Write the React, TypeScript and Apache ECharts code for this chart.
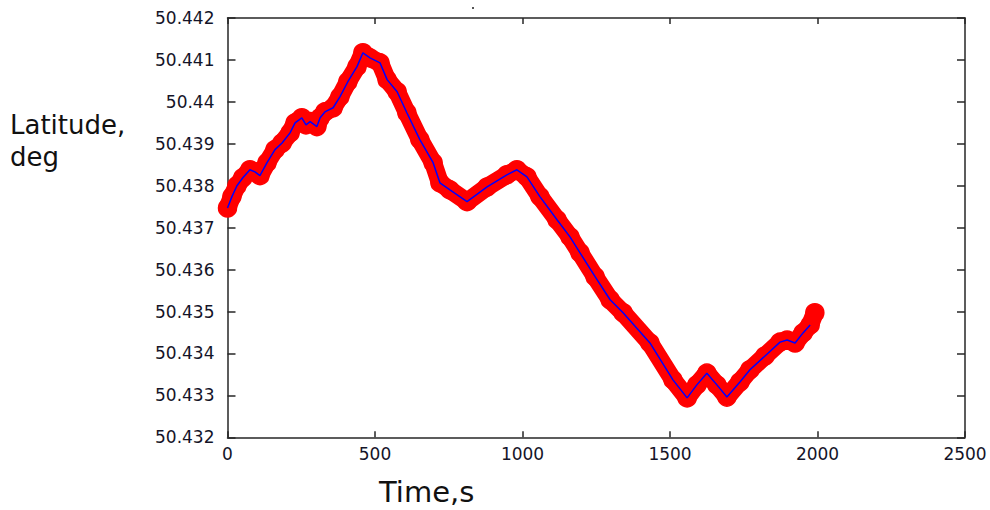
import React, { useEffect, useRef } from "react";
import * as echarts from "echarts";

// Time (s) and latitude (deg)
const timeS = [
  0, 15, 32, 52, 76, 93, 110, 134, 161, 185, 212, 229, 252, 266, 280, 303, 314, 330, 358, 381,
  408, 439, 459, 483, 517, 541, 575, 608, 652, 697, 720, 754, 812, 880, 947, 981, 1015, 1059, 1117, 1161,
  1195, 1246, 1297, 1341, 1432, 1510, 1558, 1591, 1625, 1659, 1693, 1737, 1771, 1822, 1873, 1897, 1924, 1951, 1975, 1991,
];
const latitude = [
  50.43747, 50.43774, 50.438, 50.43819, 50.43838, 50.43833, 50.43824, 50.43855, 50.43886, 50.43902,
  50.43926, 50.4395, 50.43962, 50.43945, 50.43953, 50.43941, 50.43962, 50.43976, 50.43986, 50.44012,
  50.44048, 50.44084, 50.44117, 50.44105, 50.44093, 50.44053, 50.44024, 50.43974, 50.4391, 50.43855,
  50.43807, 50.4379, 50.43762, 50.43797, 50.43826, 50.43838, 50.43821, 50.43774, 50.43719, 50.43678,
  50.4364, 50.43583, 50.43528, 50.43497, 50.43425, 50.43337, 50.43294, 50.43325, 50.43353, 50.43325,
  50.43296, 50.43332, 50.43361, 50.43394, 50.43427, 50.43432, 50.43425, 50.43449, 50.43468, 50.43497,
];
// the blue (filtered) track stops slightly before the red measurements
const blueCount = 59;

const xTicks = { min: 0, max: 2500, interval: 500 };
const yTicks = { min: 50.432, max: 50.442, interval: 0.001 };

const yLabelLines = ["Latitude,", "deg"];
const xLabel = "Time,s";

export default function App() {
  const ref = useRef<HTMLDivElement>(null);
  useEffect(() => {
    if (!ref.current) return;
    const chart = echarts.init(ref.current, null, { renderer: "svg" });
    const red = timeS.map((t, i) => [t, latitude[i]]);
    const blue = red.slice(0, blueCount);
    const axisLine = { show: true, onZero: false, lineStyle: { color: "#262626", width: 1.5 } };
    const labelStyle = { fontSize: 17, fontFamily: "DejaVu Sans", color: "#141428" };
    chart.setOption({
      animation: false,
      backgroundColor: "#ffffff",
      grid: { left: 227.5, right: 25, top: 18, bottom: 72.7, containLabel: false },
      xAxis: [
        {
          type: "value", position: "bottom", ...xTicks,
          axisLine, axisTick: { show: true, inside: true, length: 6, lineStyle: { color: "#262626", width: 1.5 } },
          axisLabel: { ...labelStyle, margin: 8, formatter: (v: number) => String(v) },
          splitLine: { show: false },
        },
        {
          type: "value", position: "top", ...xTicks,
          axisLine, axisTick: { show: true, inside: true, length: 6, lineStyle: { color: "#262626", width: 1.5 } },
          axisLabel: { show: false },
          splitLine: { show: false },
        },
      ],
      yAxis: [
        {
          type: "value", position: "left", ...yTicks,
          axisLine, axisTick: { show: true, inside: true, length: 8, lineStyle: { color: "#262626", width: 1.5 } },
          axisLabel: {
            ...labelStyle, margin: 13,
            formatter: (v: number) => String(Number(v.toFixed(3))),
          },
          splitLine: { show: false },
        },
        {
          type: "value", position: "right", ...yTicks,
          axisLine, axisTick: { show: true, inside: true, length: 8, lineStyle: { color: "#262626", width: 1.5 } },
          axisLabel: { show: false },
          splitLine: { show: false },
        },
      ],
      graphic: [
        { type: "text", left: 10, top: 111, style: { text: yLabelLines[0], font: "26px 'DejaVu Sans'", lineHeight: 28, fill: "#111" } },
        { type: "text", left: 10, top: 143, style: { text: yLabelLines[1], font: "26px 'DejaVu Sans'", lineHeight: 28, fill: "#111" } },
        { type: "text", left: 379, top: 476, style: { text: xLabel, font: "29px 'DejaVu Sans'", lineHeight: 31, fill: "#111" } },
        { type: "rect", shape: { x: 472, y: 7, width: 2, height: 2 }, style: { fill: "#555" } },
      ],
      series: [
        {
          type: "line", xAxisIndex: 0, yAxisIndex: 0, data: red,
          lineStyle: { color: "#ff0000", width: 18, cap: "round", join: "round" },
          symbol: "circle", symbolSize: 18, showSymbol: true, showAllSymbol: true,
          itemStyle: { color: "rgba(0,0,0,0)", borderColor: "#ff0000", borderWidth: 1.5 },
          z: 2,
        },
        {
          type: "line", xAxisIndex: 0, yAxisIndex: 0, data: blue,
          lineStyle: { color: "#0000ff", width: 1.5 },
          symbol: "none", z: 3,
        },
      ],
    });
    return () => chart.dispose();
  }, []);
  return <div ref={ref} style={{ width: 990, height: 510, position: "absolute", left: 0, top: 0 }} />;
}
